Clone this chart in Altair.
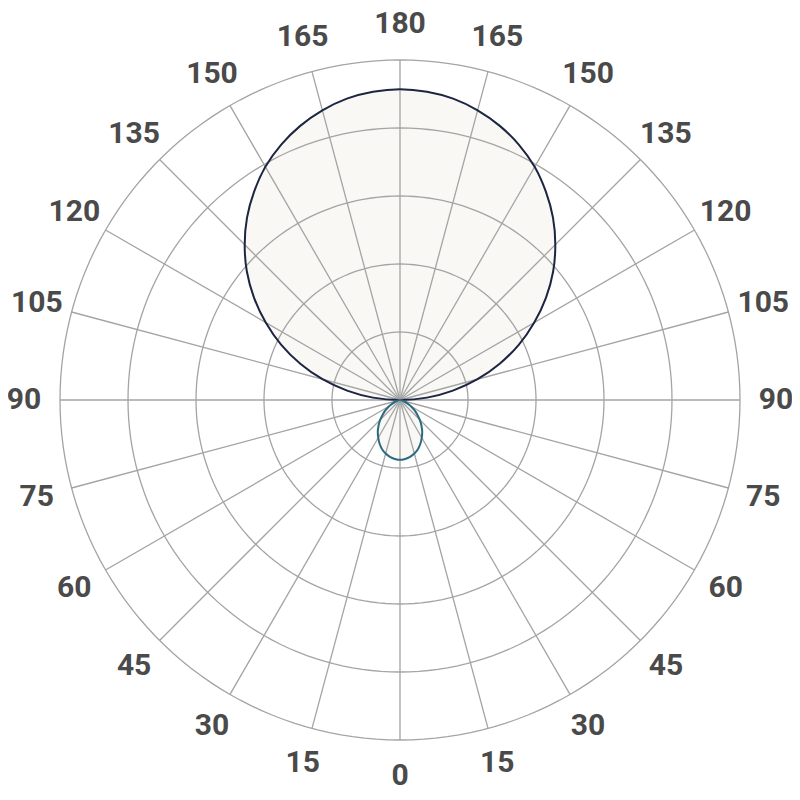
import altair as alt
import numpy as np
import pandas as pd

# Luminous intensity (arbitrary units) vs. gamma angle (0 = nadir, 180 = zenith)
gamma_lower = list(range(0, 95, 5))
intensity_lower = [88, 87, 85, 81.5, 77, 71, 64, 57, 49, 41, 33, 26, 19, 13, 8, 4.5, 2, 0.4, 0]

gamma_upper = list(range(90, 185, 5))
intensity_upper = [0, 40, 79, 118, 156, 193, 228, 262, 294, 323, 350, 374, 396, 414,
                   429, 441, 450, 455, 457]

ring_values = [100, 200, 300, 400, 500]
spoke_angles = list(range(0, 360, 15))
label_values = [0, 15, 30, 45, 60, 75, 90, 105, 120, 135, 150, 165, 180]

R_MAX = 500
LABEL_R = 553
W = 784
H = 782
XMIN = -576.47
XMAX = XMIN + W / 0.68
YMAX = 576.47
YMIN = YMAX - H / 0.68


def lobe(gammas, vals, name):
    rows = []
    i = 0
    for g, v in zip(gammas, vals):
        a = np.radians(g)
        rows.append(dict(x=v * np.sin(a), y=-v * np.cos(a), i=i, curve=name)); i += 1
    back = list(zip(gammas, vals))[1:-1][::-1]
    for g, v in back:
        a = np.radians(g)
        rows.append(dict(x=-v * np.sin(a), y=-v * np.cos(a), i=i, curve=name)); i += 1
    return rows


curves = pd.DataFrame(lobe(gamma_upper, intensity_upper, "upper") +
                      lobe(gamma_lower, intensity_lower, "lower"))

ring_rows = []
for r in ring_values:
    for k, t in enumerate(range(0, 361, 2)):
        a = np.radians(t)
        ring_rows.append(dict(x=r * np.sin(a), y=r * np.cos(a), i=k, ring=r))
rings = pd.DataFrame(ring_rows)

spokes = pd.DataFrame([dict(x0=0.0, y0=0.0,
                            x=R_MAX * np.sin(np.radians(a)),
                            y=-R_MAX * np.cos(np.radians(a))) for a in spoke_angles])

label_rows = []
for v in label_values:
    a = np.radians(v)
    label_rows.append(dict(x=LABEL_R * np.sin(a), y=-LABEL_R * np.cos(a), t=str(v)))
    if 0 < v < 180:
        label_rows.append(dict(x=-LABEL_R * np.sin(a), y=-LABEL_R * np.cos(a), t=str(v)))
labels = pd.DataFrame(label_rows)

xs = alt.Scale(domain=[XMIN, XMAX], nice=False, zero=False)
ys = alt.Scale(domain=[YMIN, YMAX], nice=False, zero=False)
X = alt.X("x:Q", scale=xs, axis=None)
Y = alt.Y("y:Q", scale=ys, axis=None)

fill_layer = alt.Chart(curves).mark_line(
    fill="#f9f8f5", stroke=None, interpolate="cardinal-closed"
).encode(x=X, y=Y, order="i:Q", detail="curve:N")

ring_layer = alt.Chart(rings).mark_line(color="#a4a4a4", strokeWidth=1.3).encode(
    x=X, y=Y, order="i:Q", detail="ring:N")

spoke_layer = alt.Chart(spokes).mark_rule(color="#a4a4a4", strokeWidth=1.3).encode(
    x=alt.X("x0:Q", scale=xs, axis=None), y=alt.Y("y0:Q", scale=ys, axis=None),
    x2="x:Q", y2="y:Q")

upper_line = alt.Chart(curves[curves.curve == "upper"]).mark_line(
    color="#1c2541", strokeWidth=2, interpolate="cardinal-closed"
).encode(x=X, y=Y, order="i:Q")

lower_line = alt.Chart(curves[curves.curve == "lower"]).mark_line(
    color="#2b6a80", strokeWidth=2, interpolate="cardinal-closed"
).encode(x=X, y=Y, order="i:Q")

label_layer = alt.Chart(labels).mark_text(
    font="Roboto", fontWeight="bold", fontSize=30, color="#4a4a4a",
    align="center", baseline="middle"
).encode(x=X, y=Y, text="t:N")

chart = alt.layer(fill_layer, ring_layer, spoke_layer, upper_line, lower_line, label_layer).properties(
    width=W, height=H, padding=0, autosize="none", background="white"
).configure_view(stroke=None)

chart.save("out.html", embed_options={"renderer": "svg", "actions": False})
